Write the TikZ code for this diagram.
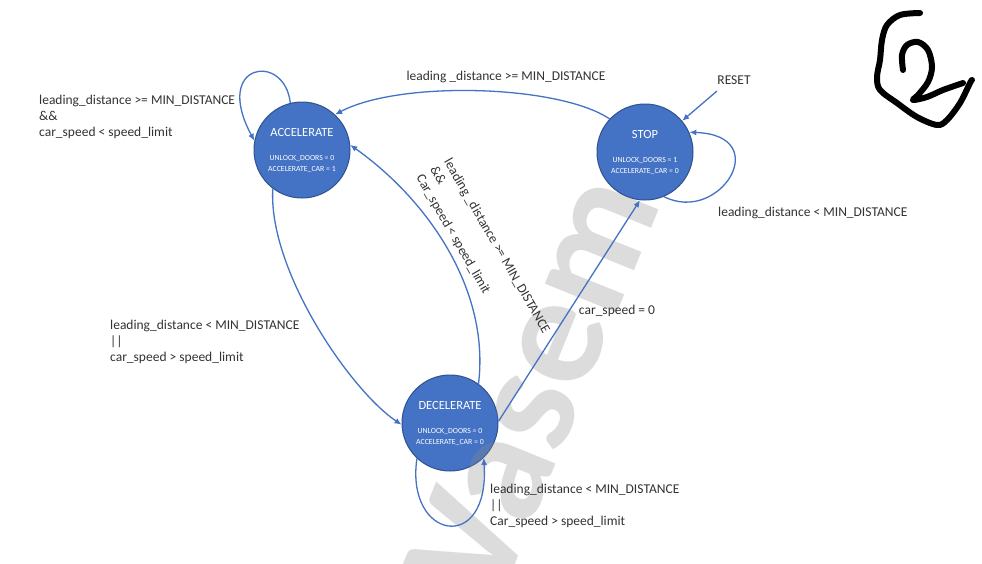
\documentclass[tikz,border=0pt]{standalone}
\usepackage{fontspec}
\setmainfont{Carlito}
\usetikzlibrary{arrows.meta}

\definecolor{stateblue}{HTML}{4472C4}
\definecolor{stateedge}{HTML}{2F528F}
\definecolor{labelgray}{HTML}{333333}
\definecolor{markgray}{HTML}{8C8C8C}

\tikzset{
  state/.style={circle, fill=stateblue, draw=stateedge, line width=1pt,
    minimum size=96pt, inner sep=0pt},
  statetitle/.style={text=white, font=\fontsize{12.5}{15}\selectfont, inner sep=0pt},
  statesub/.style={text=white, font=\fontsize{7.8}{10.5}\selectfont,
    align=center, inner sep=0pt},
  edge/.style={draw=stateblue, line width=1.3pt, -{Latex[length=7pt,width=6pt]}},
  lbl/.style={text=labelgray, font=\fontsize{13.5}{16}\selectfont,
    inner sep=0pt, align=left},
  ink/.style={black, line width=6pt, line cap=round, line join=round},
  watermark/.style={text=markgray, opacity=0.3,
    font=\fontsize{160}{160}\bfseries\selectfont, inner sep=0pt},
}

% title above the centre of a state, outputs below it
\newcommand{\statetext}[3]{%
  \node[statetitle] (#1-title) at ([yshift=18pt]#1.center) {#2};
  \node[statesub] (#1-out) at ([yshift=-14pt]#1.center) {#3};
}

\begin{document}
\begin{tikzpicture}[x=1pt,y=-1pt]
\fill[white] (0,0) rectangle (982,563);
\useasboundingbox (0,0) rectangle (982,563);

% states
\node[state] (acc)  at (302,150) {};
\node[state] (stop) at (645,152) {};
\node[state] (dec)  at (450,423) {};

% faint stamp across the page
\node[watermark, rotate=68] (stamp) at (532,386) {Vasem};

\statetext{acc}{ACCELERATE}{UNLOCK\_DOORS = 0\\ACCELERATE\_CAR = 1}
\statetext{stop}{STOP}{UNLOCK\_DOORS = 1\\ACCELERATE\_CAR = 0}
\statetext{dec}{DECELERATE}{UNLOCK\_DOORS = 0\\ACCELERATE\_CAR = 0}

% transitions
\draw[edge] (acc.104) .. controls (285,52) and (212,62) .. (acc.169);
\draw[edge] (stop.137) .. controls (560,85) and (400,80) .. (acc.47);
\coordinate (resetin) at (717,91);
\draw[edge] (resetin) -- (stop.40);
\draw[edge] (stop.293) .. controls (720,225) and (775,135) .. (stop.24);
\draw[edge] (acc.233) .. controls (268,270) and (350,390) .. (dec.182);
\draw[edge] (dec.54) .. controls (490,290) and (428,200) .. (acc.6);
\draw[edge] (dec.2) -- (stop.264);
\draw[edge] (dec.227) .. controls (405,540) and (490,555) .. (dec.314);

% guard labels
\node[lbl, anchor=north west] (accloop) at (39,95)
  {leading\_distance >= MIN\_DISTANCE\\\&\&\\car\_speed < speed\_limit};
\node[lbl] (stopacc) at (506,77) {leading \_distance >= MIN\_DISTANCE};
\node[lbl] (reset) at (734,80) {RESET};
\node[lbl, anchor=west] (stoploop) at (718,213) {leading\_distance < MIN\_DISTANCE};
\node[lbl, anchor=north west] (accdec) at (110,320)
  {leading\_distance < MIN\_DISTANCE\\||\\car\_speed > speed\_limit};
\node[lbl] (decstop) at (617,311) {car\_speed = 0};
\node[lbl, anchor=north west] (decloop) at (490,484)
  {leading\_distance < MIN\_DISTANCE\\||\\Car\_speed > speed\_limit};
\node[lbl, rotate=-60, anchor=north west] (decacc) at (452,157)
  {leading \_distance >= MIN\_DISTANCE\\\&\&\\Car\_speed < speed\_limit};

% handwritten page number
\draw[ink] plot[smooth, tension=0.55] coordinates {(920,13) (900,15) (887,25)
  (882,40) (880,60) (877,77) (880,90) (897,103) (917,117) (937,125) (947,120)
  (960,103) (970,83) (972,80)};
\draw[ink] plot[smooth, tension=0.55] coordinates {(903,70) (902,55) (907,45)
  (918,42) (928,50) (932,67) (928,82) (918,95) (913,100) (927,97) (943,90)
  (963,83)};
\end{tikzpicture}
\end{document}
